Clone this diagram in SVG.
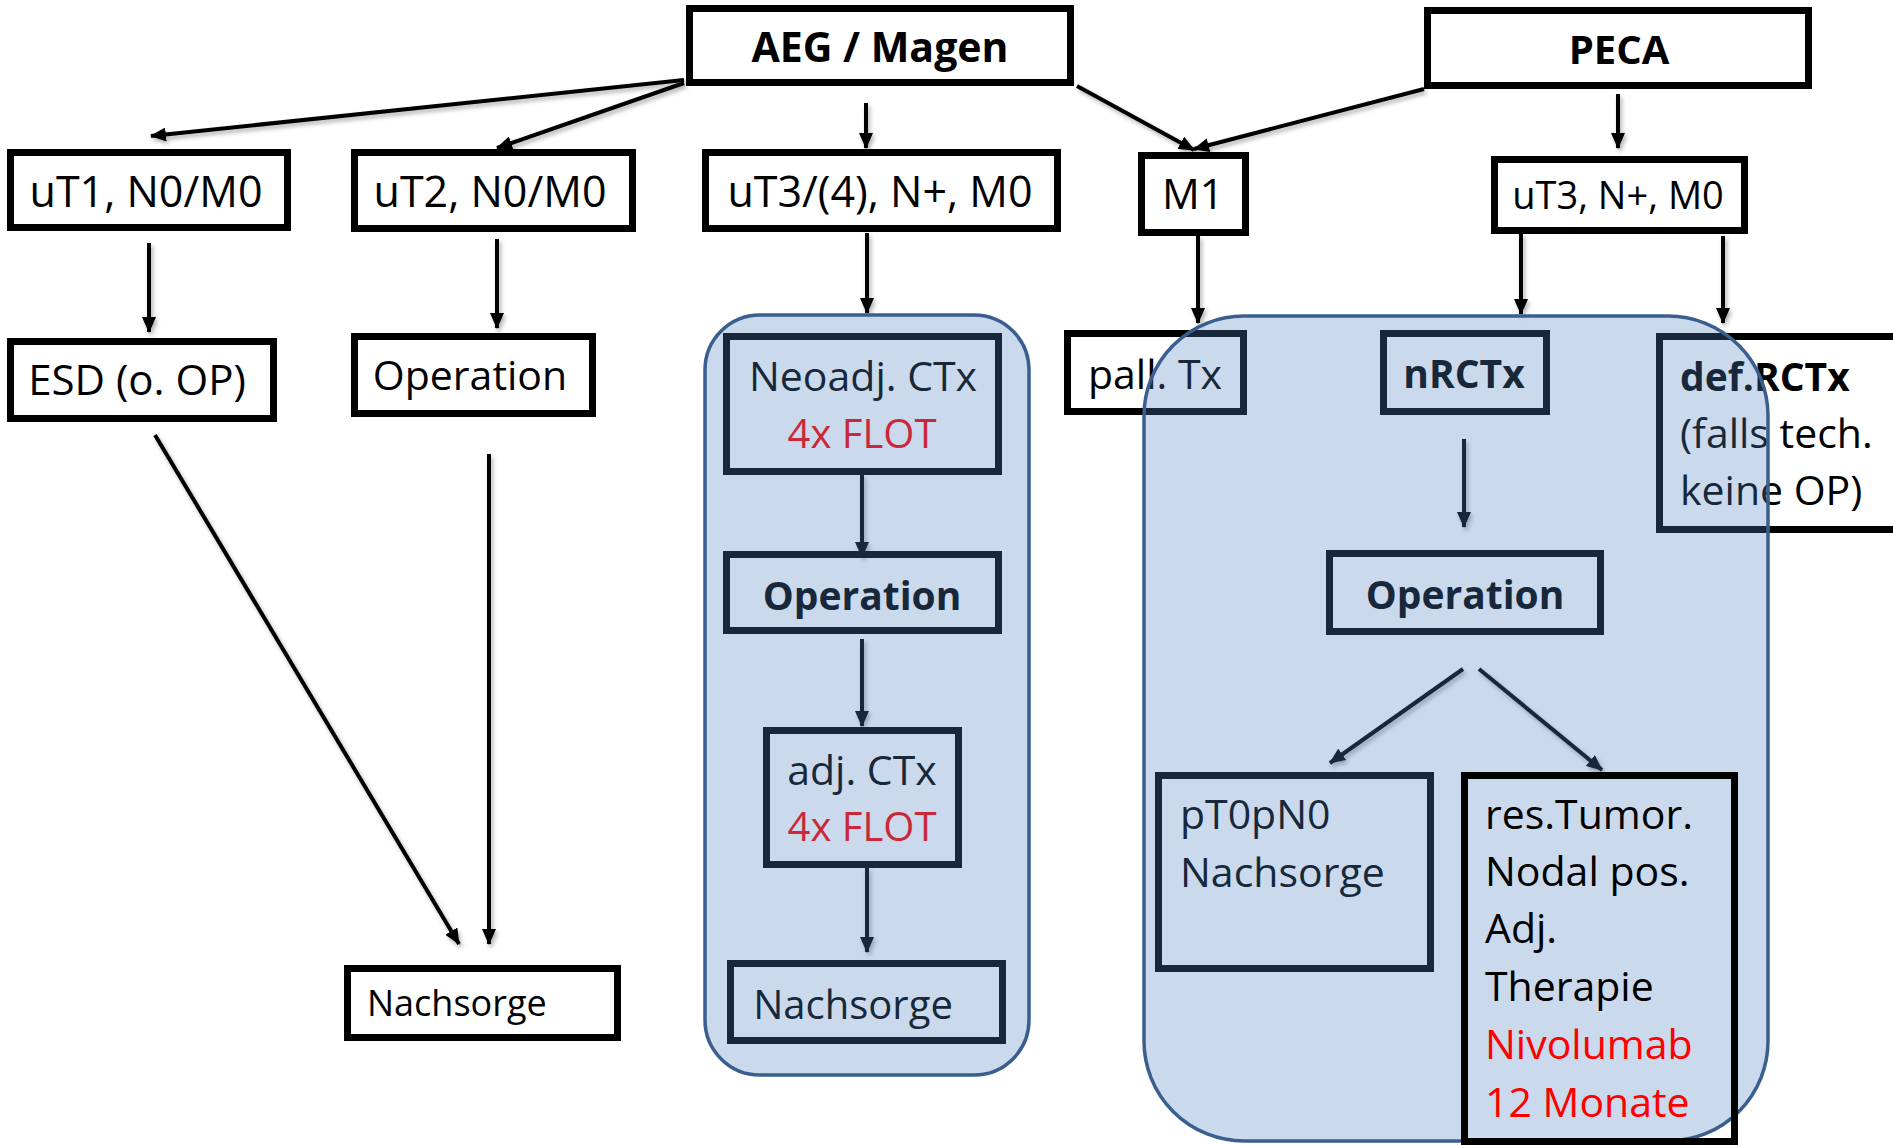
<svg xmlns="http://www.w3.org/2000/svg" width="1893" height="1145" viewBox="0 0 1893 1145">
  <defs>
    <style>
      .box { fill: none; stroke: #000; stroke-width: 7; }
      .t { font-family: "Open Sans", "Liberation Sans", sans-serif; fill: #000; }
      .b { font-weight: bold; }
      .c { text-anchor: middle; }
      .red { fill: #ff0000; }
      .conn line { stroke: #000; stroke-width: 4; marker-end: url(#arrow); }
      .cluster { fill: rgb(79,129,189); fill-opacity: 0.3; stroke: #3a5f8f; stroke-width: 3.5; }
    </style>
    <marker id="arrow" viewBox="0 0 16 14" refX="15" refY="7" markerWidth="16" markerHeight="14" markerUnits="userSpaceOnUse" orient="auto">
      <path d="M0,0 L16,7 L0,14 z" fill="#000"/>
    </marker>
    <filter id="shadow" x="-20%" y="-20%" width="140%" height="140%">
      <feDropShadow dx="2" dy="3" stdDeviation="2" flood-color="#000" flood-opacity="0.3"/>
    </filter>
  </defs>

  <rect width="1893" height="1145" fill="#fff"/>

  <!-- top level entries -->
  <g id="node-aeg-magen">
    <rect class="box" x="689.5" y="8.5" width="381" height="74"/>
    <text class="t b c" x="880" y="62" font-size="41">AEG / Magen</text>
  </g>
  <g id="node-peca">
    <rect class="box" x="1427.5" y="10.5" width="381" height="75"/>
    <text class="t b c" x="1619" y="64" font-size="40">PECA</text>
  </g>

  <!-- staging row -->
  <g id="node-ut1">
    <rect class="box" x="10.5" y="152.5" width="277" height="75"/>
    <text class="t c" x="146" y="207" font-size="43">uT1, N0/M0</text>
  </g>
  <g id="node-ut2">
    <rect class="box" x="354.5" y="152.5" width="278" height="76"/>
    <text class="t c" x="490" y="207" font-size="43">uT2, N0/M0</text>
  </g>
  <g id="node-ut3-aeg">
    <rect class="box" x="705.5" y="152.5" width="352" height="76"/>
    <text class="t c" x="880" y="207" font-size="43">uT3/(4), N+, M0</text>
  </g>
  <g id="node-m1">
    <rect class="box" x="1141.5" y="155.5" width="104" height="77"/>
    <text class="t c" x="1193" y="209" font-size="42">M1</text>
  </g>
  <g id="node-ut3-peca">
    <rect class="box" x="1494.5" y="159.5" width="250" height="71"/>
    <text class="t c" x="1618" y="209" font-size="38">uT3, N+, M0</text>
  </g>

  <!-- therapy row -->
  <g id="node-esd">
    <rect class="box" x="10.5" y="341.5" width="263" height="77"/>
    <text class="t c" x="137" y="395" font-size="42">ESD (o. OP)</text>
  </g>
  <g id="node-operation-ut2">
    <rect class="box" x="354.5" y="336.5" width="238" height="77"/>
    <text class="t c" x="470" y="390" font-size="41">Operation</text>
  </g>
  <g id="node-pall-tx">
    <rect class="box" x="1067.5" y="333.5" width="176" height="78"/>
    <text class="t c" x="1155" y="389" font-size="41">pall. Tx</text>
  </g>
  <g id="node-nrctx">
    <rect class="box" x="1383.5" y="333.5" width="163" height="78"/>
    <text class="t b c" x="1464" y="388" font-size="39">nRCTx</text>
  </g>
  <g id="node-def-rctx">
    <rect class="box" x="1659.5" y="336.5" width="250" height="193"/>
    <text class="t b" x="1680" y="391" font-size="39">def.RCTx</text>
    <text class="t" x="1680" y="448" font-size="41">(falls tech.</text>
    <text class="t" x="1680" y="505" font-size="41">keine OP)</text>
  </g>

  <!-- FLOT pathway -->
  <g id="node-neoadj-ctx">
    <rect class="box" x="726.5" y="336.5" width="272" height="135"/>
    <text class="t c" x="863" y="391" font-size="41">Neoadj. CTx</text>
    <text class="t c red" x="862" y="448" font-size="40">4x FLOT</text>
  </g>
  <g id="node-operation-flot">
    <rect class="box" x="726.5" y="554.5" width="272" height="76"/>
    <text class="t b c" x="862" y="610" font-size="39">Operation</text>
  </g>
  <g id="node-adj-ctx">
    <rect class="box" x="766.5" y="730.5" width="192" height="134"/>
    <text class="t c" x="862" y="785" font-size="41">adj. CTx</text>
    <text class="t c red" x="862" y="841" font-size="40">4x FLOT</text>
  </g>
  <g id="node-nachsorge-flot">
    <rect class="box" x="730.5" y="963.5" width="272" height="77"/>
    <text class="t c" x="853" y="1019" font-size="40">Nachsorge</text>
  </g>

  <!-- early stage follow-up -->
  <g id="node-nachsorge-early">
    <rect class="box" x="347.5" y="968.5" width="270" height="69"/>
    <text class="t" x="367" y="1016" font-size="36">Nachsorge</text>
  </g>

  <!-- PECA surgery branch -->
  <g id="node-operation-peca">
    <rect class="box" x="1329.5" y="553.5" width="271" height="78"/>
    <text class="t b c" x="1465" y="609" font-size="39">Operation</text>
  </g>
  <g id="node-pt0pn0">
    <rect class="box" x="1158.5" y="775.5" width="272" height="193"/>
    <text class="t" x="1180" y="829" font-size="41">pT0pN0</text>
    <text class="t" x="1180" y="887" font-size="41">Nachsorge</text>
  </g>

  <g id="connectors" class="conn" filter="url(#shadow)">
    <line x1="684" y1="80" x2="151" y2="136"/>
    <line x1="684" y1="83" x2="497" y2="148"/>
    <line x1="866" y1="103" x2="866" y2="148"/>
    <line x1="1077" y1="86" x2="1194" y2="150"/>
    <line x1="1424" y1="89" x2="1194" y2="149"/>
    <line x1="1618" y1="94" x2="1618" y2="148"/>
    <line x1="149" y1="243" x2="149" y2="332"/>
    <line x1="497" y1="239" x2="497" y2="328"/>
    <line x1="867" y1="233" x2="867" y2="313"/>
    <line x1="1198" y1="236" x2="1198" y2="323"/>
    <line x1="1521" y1="234" x2="1521" y2="314"/>
    <line x1="1723" y1="236" x2="1723" y2="323"/>
    <line x1="155" y1="435" x2="459" y2="944"/>
    <line x1="489" y1="454" x2="489" y2="944"/>
    <line x1="862" y1="475" x2="862" y2="557" stroke-width="5"/>
    <line x1="862" y1="639" x2="862" y2="726" stroke-width="5"/>
    <line x1="867" y1="868" x2="867" y2="952" stroke-width="5"/>
    <line x1="1464" y1="439" x2="1464" y2="527"/>
    <line x1="1463" y1="669" x2="1330" y2="763"/>
    <line x1="1479" y1="669" x2="1602" y2="770"/>
  </g>

  <!-- shaded treatment pathways -->
  <g id="cluster-flot">
    <rect class="cluster" x="705" y="315" width="324" height="760" rx="55" ry="55"/>
  </g>
  <g id="cluster-peca-nrctx">
    <rect class="cluster" x="1144" y="316" width="624" height="825" rx="100" ry="100"/>
  </g>

  <g id="node-res-tumor">
    <rect class="box" x="1464.5" y="775.5" width="270" height="366"/>
    <text class="t" x="1485" y="829" font-size="41">res.Tumor.</text>
    <text class="t" x="1485" y="886" font-size="41">Nodal pos.</text>
    <text class="t" x="1485" y="943" font-size="41">Adj.</text>
    <text class="t" x="1485" y="1001" font-size="41">Therapie</text>
    <text class="t red" x="1485" y="1059" font-size="41">Nivolumab</text>
    <text class="t red" x="1485" y="1117" font-size="41">12 Monate</text>
  </g>
</svg>
